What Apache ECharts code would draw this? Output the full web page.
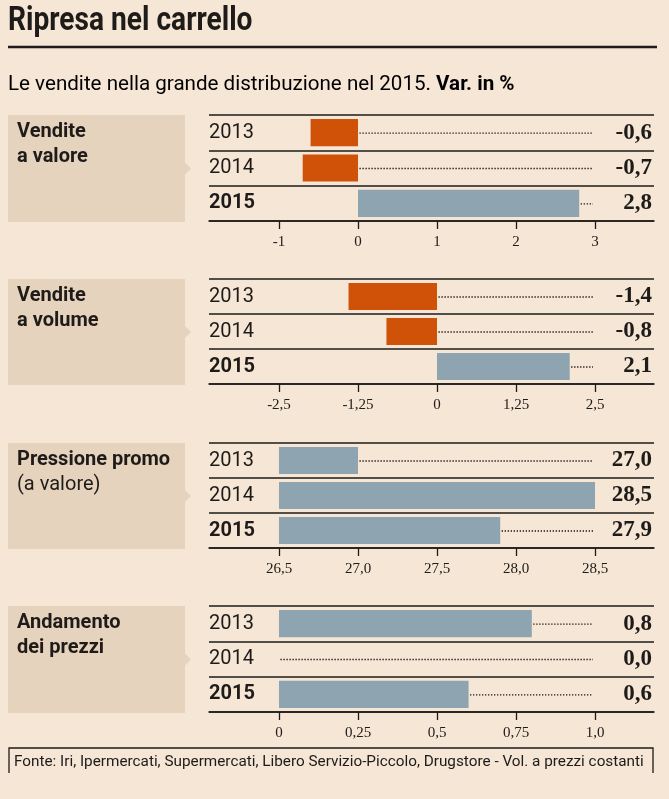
<!DOCTYPE html>
<html><head><meta charset="utf-8">
<script src="https://cdn.jsdelivr.net/npm/echarts@6/dist/echarts.min.js"></script>
<style>html,body{margin:0;padding:0;background:#F5E6D6;}#c{width:669px;height:799px;}</style>
</head><body><div id="c"></div>
<script>
// ---- data ----
const years = ['2013', '2014', '2015'];
const panelTitles = [['Vendite', 'a valore'], ['Vendite', 'a volume'], ['Pressione promo', '(a valore)'], ['Andamento', 'dei prezzi']];
const valoreValues = [-0.6, -0.7, 2.8];
const volumeValues = [-1.4, -0.8, 2.1];
const promoValues = [27.0, 28.5, 27.9];
const prezziValues = [0.8, 0.0, 0.6];
const valoreTicks = [-1, 0, 1, 2, 3];
const volumeTicks = [-2.5, -1.25, 0, 1.25, 2.5];
const promoTicks = [26.5, 27.0, 27.5, 28.0, 28.5];
const prezziTicks = [0, 0.25, 0.5, 0.75, 1.0];
const valoreTickLabels = ['-1', '0', '1', '2', '3'];
const volumeTickLabels = ['-2,5', '-1,25', '0', '1,25', '2,5'];
const promoTickLabels = ['26,5', '27,0', '27,5', '28,0', '28,5'];
const prezziTickLabels = ['0', '0,25', '0,5', '0,75', '1,0'];
const barBases = [0, 0, 26.5, 0];
const titleText = 'Ripresa nel carrello';
const subtitleText = 'Le vendite nella grande distribuzione nel 2015. ';
const subtitleBold = 'Var. in %';
const sourceText = 'Fonte: Iri, Ipermercati, Supermercati, Libero Servizio-Piccolo, Drugstore - Vol. a prezzi costanti';

const panels = [
  { values: valoreValues, ticks: valoreTicks, labels: valoreTickLabels, base: barBases[0] },
  { values: volumeValues, ticks: volumeTicks, labels: volumeTickLabels, base: barBases[1] },
  { values: promoValues, ticks: promoTicks, labels: promoTickLabels, base: barBases[2] },
  { values: prezziValues, ticks: prezziTicks, labels: prezziTickLabels, base: barBases[3] }
];

// ---- layout / style ----
const BG = '#F5E6D6', BOX = '#E6D3BE', ORANGE = '#D05208', GREY = '#8FA4B1', INK = '#1E1B18';
const SANS = 'Roboto', SERIF = 'Liberation Serif';
const gridLeft = 209, gridRight = 654;
const tickFirstPx = 279, tickLastPx = 595;
const gridTops = [115, 279, 443, 606];
const gridHeights = [106, 105, 105, 106];

const grids = [], xAxes = [], yAxes = [], series = [], graphics = [];

function fmt(v) { return v.toFixed(1).replace('.', ','); }

panels.forEach((p, k) => {
  const t = p.ticks;
  const pxPerUnit = (tickLastPx - tickFirstPx) / (t[t.length - 1] - t[0]);
  const min = t[0] - (tickFirstPx - gridLeft) / pxPerUnit;
  const max = t[t.length - 1] + (gridRight - tickLastPx) / pxPerUnit;
  grids.push({ left: gridLeft, right: 669 - gridRight, top: gridTops[k], height: gridHeights[k] });
  xAxes.push({
    type: 'value', gridIndex: k, min: min, max: max,
    axisLine: { show: true, lineStyle: { color: INK, width: 1.5 } },
    axisTick: { show: true, length: 8, lineStyle: { color: INK, width: 1.3 }, customValues: t },
    axisLabel: {
      show: true, customValues: t, margin: 14,
      fontFamily: SERIF, fontSize: 15, color: INK,
      formatter: function (val) {
        let idx = t.findIndex(x => Math.abs(x - val) < 1e-9);
        return idx >= 0 ? p.labels[idx] : '';
      }
    },
    splitLine: { show: false }
  });
  yAxes.push({
    type: 'category', gridIndex: k, data: years, inverse: true, position: 'left',
    axisLine: { show: false }, axisTick: { show: false },
    splitLine: { show: true, interval: 0, lineStyle: { color: INK, width: 1.5 } },
    axisLabel: {
      inside: true, margin: 0, interval: 0,
      formatter: function (val) { return val === '2015' ? '{b|' + val + '}' : '{n|' + val + '}'; },
      rich: {
        n: { fontFamily: SANS, fontSize: 20, color: INK },
        b: { fontFamily: SANS, fontSize: 20, fontWeight: 'bold', color: INK }
      }
    }
  });
  yAxes.push({
    type: 'category', gridIndex: k, data: years, inverse: true, position: 'right',
    axisLine: { show: false }, axisTick: { show: false }, splitLine: { show: false },
    axisLabel: {
      inside: true, margin: 2, interval: 0, align: 'right',
      fontFamily: SERIF, fontSize: 23, fontWeight: 'bold', color: INK,
      formatter: function (val, idx) { return fmt(p.values[idx]); }
    }
  });
  const endTick = t[t.length - 1];
  series.push({
    type: 'custom', xAxisIndex: k, yAxisIndex: 2 * k,
    data: p.values.map((v, i) => [v, i]),
    encode: { x: 0, y: 1 },
    renderItem: function (params, api) {
      const i = params.dataIndex;
      const v = p.values[i];
      const p0 = api.coord([p.base, i]);
      const p1 = api.coord([v, i]);
      const band = api.size([0, 1])[1];
      const bh = band * 0.77;
      const children = [];
      const x = Math.min(p0[0], p1[0]), w = Math.abs(p1[0] - p0[0]);
      if (w > 0.5) children.push({ type: 'rect', shape: { x: x, y: p0[1] - bh / 2, width: w, height: bh }, style: { fill: v < 0 ? ORANGE : GREY } });
      const ds = api.coord([Math.max(v, p.base), i])[0] + 1.5;
      const de = api.coord([endTick, i])[0] - 2;
      if (de - ds > 4) children.push({ type: 'line', shape: { x1: ds, y1: p0[1] + 0.5, x2: de, y2: p0[1] + 0.5 }, style: { stroke: '#000', lineWidth: 1.3, lineDash: [1.2, 1.8] } });
      return { type: 'group', children: children };
    }
  });
  // label box
  const top = gridTops[k], h = gridHeights[k] + 1, mid = top + h / 2;
  graphics.push({ type: 'rect', shape: { x: 8, y: top, width: 177, height: h }, style: { fill: BOX } });
  graphics.push({ type: 'polygon', shape: { points: [[185, mid - 6], [191, mid], [185, mid + 6]] }, style: { fill: BOX } });
  graphics.push({ type: 'text', x: 17, y: top + 17, style: { text: panelTitles[k][0], fontFamily: SANS, fontSize: 20, fontWeight: 'bold', fill: INK, verticalAlign: 'middle' } });
  graphics.push({ type: 'text', x: 17, y: top + 42, style: { text: panelTitles[k][1], fontFamily: SANS, fontSize: 20, fontWeight: k === 2 ? 'normal' : 'bold', fill: INK, verticalAlign: 'middle' } });
});

// header
graphics.push({ type: 'text', x: 8, y: 22, scaleX: 0.84, style: { text: titleText, fontFamily: SANS, fontSize: 33.5, fontWeight: 'bold', fill: INK, verticalAlign: 'middle' } });
graphics.push({ type: 'line', shape: { x1: 8, y1: 47, x2: 657, y2: 47 }, style: { stroke: INK, lineWidth: 2.5 } });
graphics.push({ type: 'text', x: 8, y: 85, style: { text: '{n|' + subtitleText + '}{b|' + subtitleBold + '}', verticalAlign: 'middle',
  rich: { n: { fontFamily: SANS, fontSize: 20.6, color: INK }, b: { fontFamily: SANS, fontSize: 20.6, fontWeight: 'bold', color: INK } } } });
// footer
graphics.push({ type: 'polyline', shape: { points: [[9, 773], [9, 748], [653, 748], [653, 773]] }, style: { stroke: INK, lineWidth: 1.3, fill: null } });
graphics.push({ type: 'text', x: 14, y: 762, style: { text: sourceText, fontFamily: SANS, fontSize: 15.3, fill: INK, verticalAlign: 'middle' } });

const chart = echarts.init(document.getElementById('c'), null, { renderer: 'canvas' });
chart.setOption({
  backgroundColor: BG,
  animation: false,
  grid: grids, xAxis: xAxes, yAxis: yAxes, series: series,
  graphic: { elements: graphics }
});
</script></body></html>
